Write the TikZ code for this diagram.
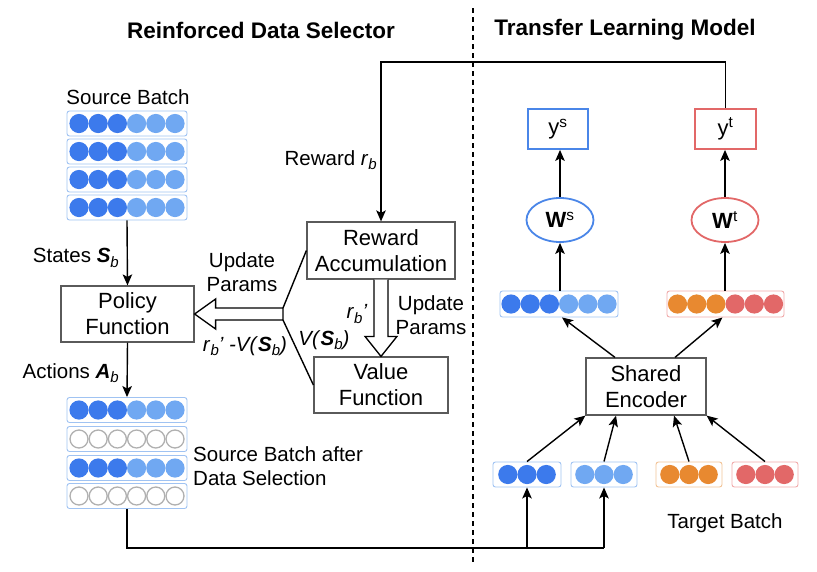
\documentclass[tikz,border=0pt]{standalone}
\usepackage{fontspec}
\setmainfont{Liberation Sans}
\usetikzlibrary{calc,arrows.meta,shapes.geometric}
\definecolor{dblue}{RGB}{60,122,236}
\definecolor{lblue}{RGB}{112,168,242}
\definecolor{bblue}{RGB}{160,195,242}
\definecolor{sblue}{RGB}{74,134,232}
\definecolor{orng}{RGB}{232,137,48}
\definecolor{rred}{RGB}{226,104,104}
\definecolor{bred}{RGB}{240,170,170}
\definecolor{borng}{RGB}{242,195,150}
\definecolor{gcirc}{RGB}{176,176,176}
\definecolor{boxc}{RGB}{90,90,90}
\newcommand\lowsub[1]{\raisebox{-0.4ex}{\fontsize{15}{15}\selectfont\itshape #1}}
\newcommand\ballrow[3]{%
  \foreach \c [count=\i from 0] in {#3} {%
    \path[\c] ($(#1.center)+({(\i-(#2-1)/2)*19.2},0)$) circle (9.6);}}
\begin{document}
\begin{tikzpicture}[x=1pt,y=-1pt,
  lab/.style={font=\fontsize{20.5}{24}\selectfont, align=center, inner sep=0pt},
  boxtxt/.style={draw=boxc, line width=1.2pt, font=\fontsize{22}{26}\selectfont, align=center, inner sep=0pt},
  rowbox/.style={draw=bblue, line width=0.9pt, rounded corners=2.5pt, minimum height=25pt, inner sep=0pt},
  db/.style={fill=dblue}, lb/.style={fill=lblue}, og/.style={fill=orng}, rd/.style={fill=rred},
  gc/.style={draw=gcirc, fill=white, line width=1.3pt},
  arr/.style={-{Stealth[length=11pt,width=9.5pt,inset=2.5pt]}, line width=1.4pt},
  ln/.style={line width=1.4pt},
  hollow/.style={draw=black, fill=white, line width=1.3pt, line join=miter}]
\path[use as bounding box] (0,0) rectangle (817,571);

% titles
\node[font=\fontsize{22.5}{26}\selectfont\bfseries] (t1) at (261,30) {Reinforced Data Selector};
\node[font=\fontsize{22.5}{26}\selectfont\bfseries] (t2) at (625,30) {Transfer Learning Model};
\draw[dash pattern=on 5pt off 4pt, line width=1.3pt] (473,8) -- (473,564);

% source batch
\node[lab] (sbl) at (128,97) {Source Batch};
\foreach \n/\y in {s1/123.5,s2/151.5,s3/179.5,s4/207.5}{
  \node[rowbox, minimum width=120pt] (\n) at (127,\y) {};
  \ballrow{\n}{6}{db,db,db,lb,lb,lb}
}
% policy
\node[boxtxt, minimum width=133pt, minimum height=56pt] (pol) at (127.5,314) {Policy\\Function};
\node[lab, anchor=east] (stl) at (119,258) {States \textbf{\textit{S}}\lowsub{b}};
\draw[arr] (s4.south) -- (pol.north);
% after selection
\foreach \n/\y in {a1/410,a2/439,a3/468,a4/496}{
  \node[rowbox, minimum width=120pt] (\n) at (127,\y) {};
}
\ballrow{a1}{6}{db,db,db,lb,lb,lb}
\ballrow{a3}{6}{db,db,db,lb,lb,lb}
\foreach \n in {a2,a4}{
  \foreach \i in {0,...,5}{\path[gc] ($(\n.center)+({(\i-2.5)*19.2},0)$) circle (9);}
}
\node[lab, anchor=east] (acl) at (119,373) {Actions \textbf{\textit{A}}\lowsub{b}};
\draw[arr] (pol.south) -- (a1.north);
\node[lab, align=left, anchor=west] (sbal) at (193,466) {Source Batch after\\Data Selection};

% reward and value
\node[boxtxt, minimum width=148pt, minimum height=57pt] (rew) at (381,250.5) {Reward\\Accumulation};
\node[boxtxt, minimum width=134pt, minimum height=56pt] (val) at (381,385) {Value\\Function};

% vertical hollow arrow
\draw[hollow] ($(rew.south)+(-7,0)$) -- ($(val.north)+(-7,-20)$) -- ($(val.north)+(-16,-20)$) -- (val.north)
  -- ($(val.north)+(16,-20)$) -- ($(val.north)+(7,-20)$) -- ($(rew.south)+(7,0)$);
\node[lab] (rbp) at (357,314) {\textit{r}\lowsub{b}\textit{'}};
\node[lab] (up2) at (431,315) {Update\\Params};

% left hollow arrow and branch
\coordinate (br) at (283,314);
\draw[hollow] ($(br)+(0,-6)$) -- ($(pol.east)+(21,-6)$) -- ($(pol.east)+(21,-15)$) -- (pol.east)
  -- ($(pol.east)+(21,15)$) -- ($(pol.east)+(21,6)$) -- ($(br)+(0,6)$) -- cycle;
\draw[ln] ($(br)+(0,-6)$) -- (rew.west);
\draw[ln] ($(br)+(0,6)$) -- (val.west);
\node[lab] (up1) at (242,272) {Update\\Params};
\node[lab] (rvl) at (245,346) {\textit{r}\lowsub{b}\textit{' -V(}\textbf{\textit{S}}\lowsub{b}\textit{)}};
\node[lab] (vsl) at (324,340) {\textit{V(}\textbf{\textit{S}}\lowsub{b}\textit{)}};

% right side
\node[draw=sblue, line width=1.8pt, minimum width=60pt, minimum height=40pt, inner sep=0pt, font=\fontsize{22}{26}\selectfont] (ys) at (558,129) {y\textsuperscript{s}};
\node[draw=rred, line width=1.8pt, minimum width=61pt, minimum height=40pt, inner sep=0pt, font=\fontsize{22}{26}\selectfont] (yt) at (725.5,129) {y\textsuperscript{t}};
\node[ellipse, draw=sblue, line width=1.8pt, minimum width=67pt, minimum height=44pt, inner sep=0pt, font=\fontsize{22}{26}\selectfont] (ws) at (560,220) {\textbf{W}\textsuperscript{s}};
\node[ellipse, draw=rred, line width=1.8pt, minimum width=67pt, minimum height=44pt, inner sep=0pt, font=\fontsize{22}{26}\selectfont] (wt) at (725,220) {\textbf{W}\textsuperscript{t}};
\node[rowbox, minimum width=118pt, minimum height=26pt] (fs) at (559,304) {};
\ballrow{fs}{6}{db,db,db,lb,lb,lb}
\node[rowbox, draw=bred, minimum width=117pt, minimum height=26pt] (ft) at (725.5,304) {};
\ballrow{ft}{6}{og,og,og,rd,rd,rd}
\draw[arr] (fs.north -| ws.south) -- (ws.south);
\draw[arr] (ws.north) -- (ws.north |- ys.south);
\draw[arr] (ft.north -| wt.south) -- (wt.south);
\draw[arr] (wt.north) -- (wt.north |- yt.south);

\node[boxtxt, minimum width=120pt, minimum height=57pt] (enc) at (646,386.5) {Shared\\Encoder};
\draw[arr] ($(enc.north)+(-31,0)$) -- ($(fs.south)+(3,0)$);
\draw[arr] ($(enc.north)+(29,0)$) -- ($(ft.south)+(-3,0)$);

% target batch
\node[rowbox, minimum width=68pt] (tb1) at (527,474.5) {};
\ballrow{tb1}{3}{db,db,db}
\node[rowbox, minimum width=66pt] (tb2) at (604,474.5) {};
\ballrow{tb2}{3}{lb,lb,lb}
\node[rowbox, draw=borng, minimum width=66pt] (tb3) at (689,474.5) {};
\ballrow{tb3}{3}{og,og,og}
\node[rowbox, draw=bred, minimum width=66pt] (tb4) at (765,474.5) {};
\ballrow{tb4}{3}{rd,rd,rd}
\node[lab] (tbl) at (725,523) {Target Batch};
\draw[arr] (tb1.north) -- (enc.south west);
\draw[arr] (tb2.north) -- ($(enc.south)+(-30,0)$);
\draw[arr] (tb3.north) -- ($(enc.south)+(28,0)$);
\draw[arr] (tb4.north) -- (enc.south east);

% bottom feedback
\coordinate (bl) at (127,548);
\coordinate (b1) at (527,548);
\coordinate (b2) at (604,548);
\draw[ln] (a4.south) -- (bl) -- (b2);
\draw[arr] (b1) -- (tb1.south);
\draw[arr] (b2) -- (tb2.south);

% reward feedback
\coordinate (tp) at (381,62);
\draw[arr] (yt.north) |- (tp) -- (rew.north);
\node[lab, anchor=east] (rwl) at (377,160) {Reward \textit{r}\lowsub{b}};
\end{tikzpicture}
\end{document}
